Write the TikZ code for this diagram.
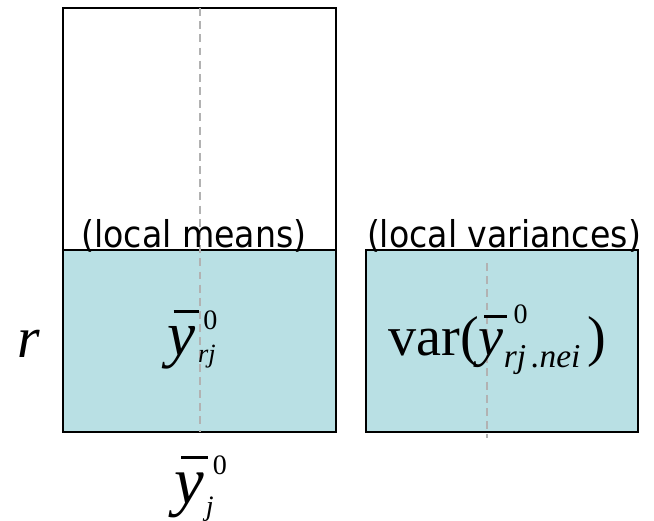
\documentclass[tikz,border=0pt]{standalone}
\usepackage{fontspec}
\newfontfamily\labelfont{DejaVu Sans Condensed}
\newfontfamily\formfont{Liberation Serif}
\definecolor{cellblue}{RGB}{185,224,228}
\newcommand{\ybar}{\rlap{\hspace{0.1em}\rule[0.66em]{0.4em}{0.045em}}\textit{y}}
\newcommand{\fsz}[1]{\fontsize{#1}{#1}\selectfont}
\tikzset{
  frame/.style={draw=black,line width=1.1pt},
  midline/.style={draw=black!30,line width=1.1pt,dash pattern=on 4.5pt off 3pt},
  caption/.style={font=\labelfont\fsz{21},anchor=base,inner sep=0pt},
  formula/.style={font=\formfont\fsz{32},anchor=base west,inner sep=0pt}
}
\begin{document}
\begin{tikzpicture}[x=0.02cm,y=-0.02cm]
  \useasboundingbox (0,0) rectangle (654,521);

  % Local means column.
  \filldraw[fill=cellblue,frame] (63,250) rectangle (336,432);
  \draw[frame] (63,8) rectangle (336,432);
  \coordinate (meanstop) at (200,8);
  \coordinate (meansbot) at (200,432);
  \draw[midline] (meanstop) -- (meansbot);

  % Local variances box.
  \filldraw[fill=cellblue,frame] (366,250) rectangle (638,432);
  \coordinate (vartop) at (487,263);
  \coordinate (varbot) at (487,438);
  \draw[midline] (vartop) -- (varbot);

  \node[caption] (meanslbl) at (194,247) {(local means)};
  \node[caption] (varlbl) at (504,247) {(local variances)};

  \node[formula,font=\formfont\fsz{33}] (rowlbl) at (17,357) {\itshape r};
  \node[formula,font=\formfont\fsz{36}] (cellmean) at (167,355)
    {\ybar\rlap{\hspace{4.5pt}\raisebox{14.5pt}{\fsz{16}0}}%
     \hspace{1.5pt}\raisebox{-4.5pt}{\fsz{15}\itshape rj}};
  \node[formula] (cellvar) at (388,355)
    {var(\ybar\rlap{\hspace{5.5pt}\raisebox{18pt}{\fsz{16}0}}%
     \raisebox{-7pt}{\fsz{19}\itshape rj\hspace{3pt}.nei}\hspace{4pt})};
  \node[formula,font=\formfont\fsz{38}] (colmean) at (174,503)
    {\ybar\rlap{\hspace{5pt}\raisebox{16.5pt}{\fsz{16}0}}%
     \hspace{1pt}\raisebox{-7pt}{\fsz{16}\itshape j}};
\end{tikzpicture}
\end{document}
